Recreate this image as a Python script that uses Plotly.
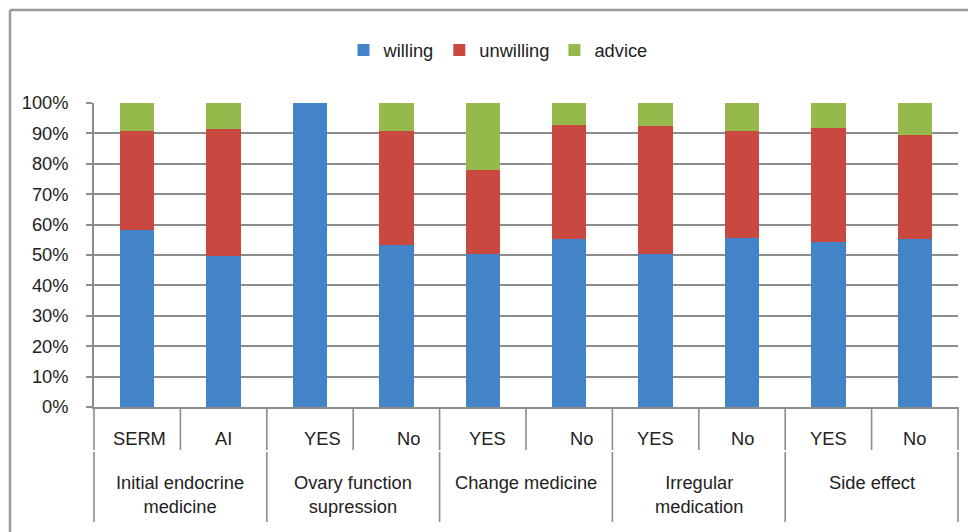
import plotly.graph_objects as go

# ---------------- data ----------------
categories = ["SERM", "AI", "OFS YES", "OFS No", "Change YES", "Change No",
              "Irregular YES", "Irregular No", "Side effect YES", "Side effect No"]
sub_labels = ["SERM", "AI", "YES", "No", "YES", "No", "YES", "No", "YES", "No"]
group_labels = ["Initial endocrine<br>medicine", "Ovary function<br>supression",
                "Change medicine", "Irregular<br>medication", "Side effect"]
willing = [58.1, 49.6, 100.0, 53.4, 50.2, 55.2, 50.2, 55.5, 54.4, 55.2]
unwilling = [32.8, 41.8, 0.0, 37.5, 27.6, 37.7, 42.2, 35.4, 37.4, 34.4]
advice = [9.1, 8.6, 0.0, 9.1, 22.2, 7.1, 7.6, 9.1, 8.2, 10.4]
y_ticks = list(range(0, 101, 10))
y_ticktext = [f"{v}%" for v in y_ticks]

# ---------------- style ----------------
W, H = 976, 532
OFF = 8  # page body margin offset
# target window pixel positions of plot area
PL, PR, PT, PB = 94, 958, 103, 407
ML, MR, MT, MB = PL - OFF, W - (PR - OFF), PT - OFF, H - (PB - OFF)
PW, PH = PR - PL, PB - PT
FONT = "Liberation Sans, Arial, Helvetica, sans-serif"
FS = 18.3
GRID = "#8c8c8c"
TXT = "#222222"


def px(p):
    return (p - PL) / PW


def py(p):
    return (PB - p) / PH


fig = go.Figure()
for name, vals, col in [("willing", willing, "#4384c9"),
                        ("unwilling", unwilling, "#c9483f"),
                        ("advice", advice, "#96b94c")]:
    fig.add_trace(go.Bar(x=categories, y=vals, name=name,
                         marker=dict(color=col, line=dict(width=0))))

shapes = []
n = len(categories)
# first row separators (every category)
for k in range(n + 1):
    shapes.append(dict(type="line", xref="paper", yref="paper",
                       x0=k / n, x1=k / n, y0=py(407), y1=py(450),
                       line=dict(color=GRID, width=1.6)))
# second row separators (group boundaries)
for k in range(0, n + 1, 2):
    shapes.append(dict(type="line", xref="paper", yref="paper",
                       x0=k / n, x1=k / n, y0=py(452), y1=py(522),
                       line=dict(color=GRID, width=1.6)))
# outer chart border
shapes.append(dict(type="line", xref="paper", yref="paper",
                   x0=px(10), x1=px(10), y0=py(10), y1=py(545),
                   line=dict(color="#9a9a9a", width=2.5)))
shapes.append(dict(type="line", xref="paper", yref="paper",
                   x0=px(10), x1=px(990), y0=py(10), y1=py(10),
                   line=dict(color="#9a9a9a", width=2.5)))

annotations = []
sub_shift = [2, 0, 12, 12, 5, 12, 0, 0, 0, 0]
for i, lab in enumerate(sub_labels):
    annotations.append(dict(x=i, xref="x", y=py(438), yref="paper",
                            text=lab, showarrow=False, yanchor="middle",
                            xanchor="center", xshift=sub_shift[i],
                            font=dict(family=FONT, size=FS, color=TXT)))
for g, lab in enumerate(group_labels):
    annotations.append(dict(x=2 * g + 0.5, xref="x", y=py(470), yref="paper",
                            text=lab, showarrow=False, yanchor="top",
                            xanchor="center", align="center",
                            font=dict(family=FONT, size=FS, color=TXT)))

fig.update_layout(
    width=W, height=H,
    margin=dict(l=ML, r=MR, t=MT, b=MB, pad=0),
    barmode="stack", bargap=0.6,
    plot_bgcolor="white", paper_bgcolor="white",
    font=dict(family=FONT, size=FS, color=TXT),
    showlegend=True,
    legend=dict(orientation="h", x=px(498), xanchor="center",
                y=py(50), yanchor="middle", traceorder="normal",
                itemwidth=30, font=dict(family=FONT, size=FS, color=TXT),
                bgcolor="rgba(0,0,0,0)"),
    xaxis=dict(type="category", range=[-0.5, n - 0.5], showticklabels=False,
               showgrid=False, showline=True, linecolor=GRID, linewidth=1.6,
               ticks="", zeroline=False, fixedrange=True),
    yaxis=dict(range=[0, 100], tickmode="array", tickvals=y_ticks,
               ticktext=y_ticktext,
               showgrid=True, gridcolor=GRID, gridwidth=1.6,
               showline=True, linecolor=GRID, linewidth=1.6,
               ticks="outside", ticklen=6, tickcolor=GRID, tickwidth=1.6,
               ticklabelstandoff=14, zeroline=False,
               tickfont=dict(family=FONT, size=FS, color=TXT), fixedrange=True),
    shapes=shapes,
    annotations=annotations,
)

fig.write_html("out.html")
